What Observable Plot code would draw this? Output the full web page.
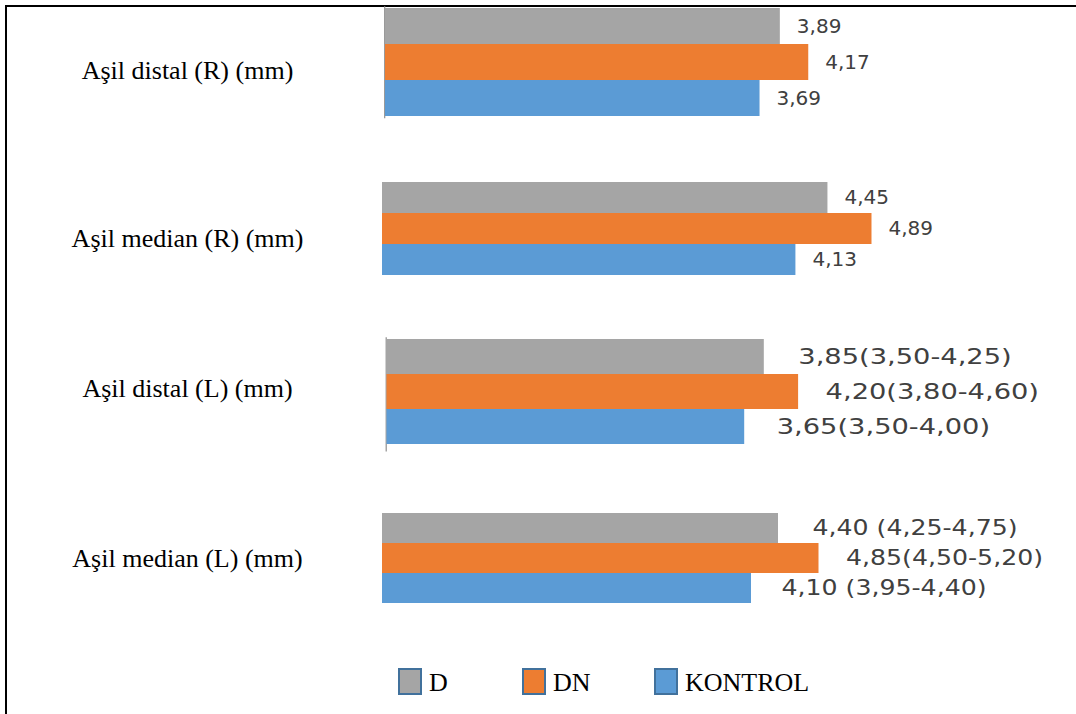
<!DOCTYPE html>
<html>
<head>
<meta charset="utf-8">
<script src="https://cdn.jsdelivr.net/npm/d3@7"></script>
<script src="https://cdn.jsdelivr.net/npm/@observablehq/plot@0.6"></script>
<style>
  html, body { margin: 0; padding: 0; background: #fff; }
  #chart { position: relative; width: 1076px; height: 714px; overflow: hidden; background: #fff; }
  #frame { position: absolute; left: 5px; top: 5px; width: 1100px; height: 740px;
           border-top: 2px solid #000; border-left: 2px solid #000; }
  .layer { position: absolute; left: 0; top: 0; }
  #legend { position: absolute; left: 398px; top: 668px; display: flex; align-items: flex-start;
            font-family: "Liberation Serif", "Times New Roman", serif; font-size: 26px; color: #000; }
  #legend .item { display: flex; align-items: flex-start; }
  #legend .sw { box-sizing: border-box; width: 24px; height: 27px; border: 2.5px solid #41719c; margin-right: 7px; }
  #legend .lab { line-height: 27px; position: relative; top: 1px; }
</style>
</head>
<body>
<div id="chart"><div id="frame"></div></div>
<script>
// ---- data ----
const categories = ["Aşil distal (R) (mm)", "Aşil median (R) (mm)", "Aşil distal (L) (mm)", "Aşil median (L) (mm)"];
const series = ["D", "DN", "KONTROL"];
const seriesColors = ["#a5a5a5", "#ed7d31", "#5b9bd5"];
const valuesD = [3.89, 4.45, 3.85, 4.40];
const valuesDN = [4.17, 4.89, 4.20, 4.85];
const valuesKontrol = [3.69, 4.13, 3.65, 4.10];
const labelsD = ["3,89", "4,45", "3,85(3,50-4,25)", "4,40 (4,25-4,75)"];
const labelsDN = ["4,17", "4,89", "4,20(3,80-4,60)", "4,85(4,50-5,20)"];
const labelsKontrol = ["3,69", "4,13", "3,65(3,50-4,00)", "4,10 (3,95-4,40)"];

// ---- layout (style only; each panel is a separately pasted chart) ----
const W = 1076, H = 714, XMAX = 6;
const layout = [
  {x0: 385,   k: 101.5, top: 7.3,   bottom: 117.3, gaps: [16.5, 16.5, 16.5], font: 20, sx: 1,    ls: 0,   catDy: 8,  axis: [1, 1]},
  {x0: 382,   k: 100.1, top: 181,   bottom: 276.7, gaps: [16.5, 16.5, 16.5], font: 20, sx: 1,    ls: 0,   catDy: 9,  axis: null},
  {x0: 386.5, k: 98,    top: 337.3, bottom: 445,   gaps: [34, 27, 32],       font: 21, sx: 1.3,  ls: 3.4, catDy: -3, axis: [0, 6.5]},
  {x0: 382,   k: 90,    top: 512.3, bottom: 604.3, gaps: [34, 27, 30],       font: 21, sx: 1.2,  ls: 2.3, catDy: 0,  axis: null}
];

const valueTable = [valuesD, valuesDN, valuesKontrol];
const labelTable = [labelsD, labelsDN, labelsKontrol];

const chart = document.getElementById("chart");

categories.forEach((cat, g) => {
  const L = layout[g];
  const rows = series.map((s, i) => ({category: cat, series: s, value: valueTable[i][g], label: labelTable[i][g]}));
  const marks = [];
  if (L.axis) {
    marks.push(Plot.ruleX([0], {stroke: "#8f8f8f", strokeWidth: 1.2, dx: -0.8, insetTop: -L.axis[0], insetBottom: -L.axis[1]}));
  }
  marks.push(Plot.barX(rows, {x: "value", y: "series", fill: "series"}));
  series.forEach((s, i) => {
    marks.push(Plot.text(rows.filter(d => d.series === s), {
      x: "value", y: "series", text: "label", textAnchor: "start", dx: L.gaps[i],
      fontFamily: "DejaVu Sans", fontSize: L.font, fill: "#404040"
    }));
  });
  marks.push(Plot.text([cat], {
    frameAnchor: "left", dx: 187 - L.x0, dy: L.catDy, textAnchor: "middle",
    fontFamily: "Liberation Serif", fontSize: 26, fill: "#000"
  }));
  const svg = Plot.plot({
    width: W, height: H,
    marginLeft: L.x0, marginRight: W - (L.x0 + L.k * XMAX),
    marginTop: L.top, marginBottom: H - L.bottom,
    x: {domain: [0, XMAX], axis: null},
    y: {domain: series, axis: null, padding: 0},
    color: {domain: series, range: seriesColors},
    style: {background: "transparent", overflow: "visible"},
    marks
  });
  if (L.sx !== 1) {
    // the pasted panel's value labels are horizontally stretched
    const valueLabels = new Set(rows.map(d => d.label));
    svg.querySelectorAll("text").forEach(t => {
      if (!valueLabels.has(t.textContent)) return;
      const tr = t.getAttribute("transform");
      if (tr && !t.hasAttribute("x")) t.setAttribute("transform", tr + ` scale(${L.sx},1)`);
      else t.style.letterSpacing = L.ls + "px";
    });
  }
  svg.classList.add("layer");
  chart.appendChild(svg);
});

// legend
const legend = document.createElement("div");
legend.id = "legend";
const itemWidths = [124, 132, null];
series.forEach((s, i) => {
  const item = document.createElement("div");
  item.className = "item";
  if (itemWidths[i]) item.style.width = itemWidths[i] + "px";
  const sw = document.createElement("div");
  sw.className = "sw";
  sw.style.background = seriesColors[i];
  const lab = document.createElement("span");
  lab.className = "lab";
  lab.textContent = s;
  item.appendChild(sw);
  item.appendChild(lab);
  legend.appendChild(item);
});
chart.appendChild(legend);
</script>
</body>
</html>
